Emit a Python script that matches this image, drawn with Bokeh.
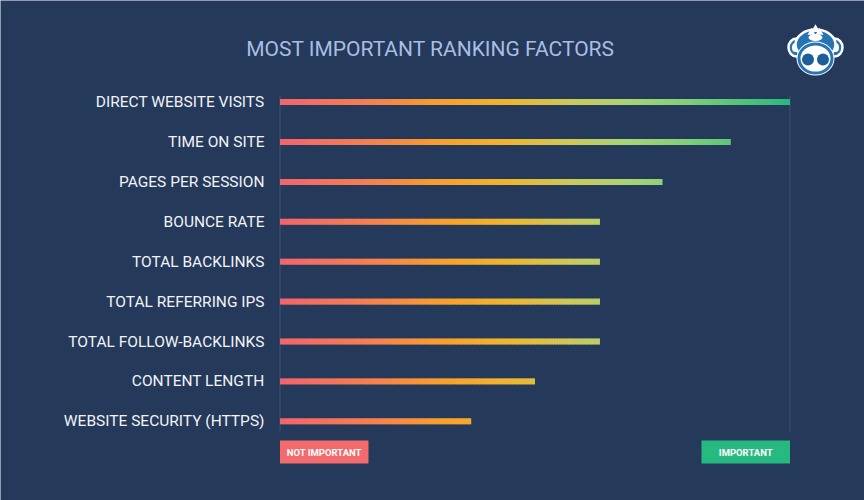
import numpy as np
from bokeh.plotting import figure
from bokeh.models import Range1d
from bokeh.core.properties import value
from bokeh.embed import file_html
from bokeh.resources import INLINE

# ---------------- data ----------------
title_text = "MOST IMPORTANT RANKING FACTORS"
factors = [
    "DIRECT WEBSITE VISITS",
    "TIME ON SITE",
    "PAGES PER SESSION",
    "BOUNCE RATE",
    "TOTAL BACKLINKS",
    "TOTAL REFERRING IPS",
    "TOTAL FOLLOW-BACKLINKS",
    "CONTENT LENGTH",
    "WEBSITE SECURITY (HTTPS)",
]
importance = [100, 88.4, 75, 62.7, 62.7, 62.7, 62.7, 50, 37.5]
scale_labels = ["NOT IMPORTANT", "IMPORTANT"]

# ---------------- layout ----------------
W, H = 864, 500
X0, X1 = 279.5, 789.5      # pixel of value 0 and value 100
Y0, DY = 101.6, 39.9       # pixel of first row, row spacing
sx = (X1 - X0) / 100.0

def fx(px):
    return (px - X0) / sx

def fy(py):
    return (py - Y0) / DY

BG = "#25395a"
FONT = "Roboto"

p = figure(width=W, height=H, output_backend="svg", toolbar_location=None,
           x_range=Range1d(fx(0), fx(W)), y_range=Range1d(fy(H), fy(0)),
           x_axis_location=None, y_axis_location=None, min_border=0)
p.background_fill_color = BG
p.border_fill_color = BG
p.outline_line_color = None
p.xgrid.grid_line_color = None
p.ygrid.grid_line_color = None

# gradient colour as function of position on the 0..100 scale
stops = [
    (0.00, (241, 101, 110)),
    (0.18, (246, 128, 78)),
    (0.33, (248, 162, 42)),
    (0.45, (238, 182, 48)),
    (0.57, (205, 200, 90)),
    (0.68, (168, 212, 118)),
    (0.80, (128, 206, 120)),
    (0.90, (85, 195, 122)),
    (1.00, (40, 184, 126)),
]

def grad(t):
    t = min(max(t, 0.0), 1.0)
    for (a, ca), (b, cb) in zip(stops[:-1], stops[1:]):
        if a <= t <= b:
            f = (t - a) / (b - a)
            c = [int(round(ca[k] + f * (cb[k] - ca[k]))) for k in range(3)]
            return "#%02x%02x%02x" % tuple(c)
    return "#%02x%02x%02x" % stops[-1][1]

n = len(factors)

# axis frame lines at 0 and 100
p.segment(x0=[0, 100], y0=[fy(95)] * 2, x1=[0, 100], y1=[fy(431)] * 2,
          line_color="#3b5479", line_width=1)

# gradient bars
step = 0.5
sx0, sx1, sy, sc = [], [], [], []
for i, v in enumerate(importance):
    xs = np.arange(0, v, step)
    for x in xs:
        sx0.append(x)
        sx1.append(min(x + step + 0.2, v))
        sy.append(i)
        sc.append(grad((x + step / 2) / 100.0))
p.segment(x0=sx0, y0=sy, x1=sx1, y1=sy, line_color=sc, line_width=6,
          line_cap="butt")

# category labels
p.text(x=[fx(264)] * n, y=list(range(n)), text=factors, text_align="right",
       text_baseline="middle", text_font=value(FONT), text_font_size="15.5px",
       text_color="#f1f3f6")

# title
p.text(x=[fx(430)], y=[fy(48)], text=[title_text], text_align="center",
       text_baseline="middle", text_font=value(FONT), text_font_size="21px",
       text_color="#a8bee2")

# scale boxes
bl = [0, 100 - fx(368)]
br = [fx(368), 100]
p.quad(left=bl, right=br, top=[fy(440)] * 2, bottom=[fy(463)] * 2,
       fill_color=["#f26a6b", "#27ba80"], line_color=None)
p.text(x=[(bl[0] + br[0]) / 2, (bl[1] + br[1]) / 2], y=[fy(452)] * 2,
       text=scale_labels, text_align="center", text_baseline="middle",
       text_font=value(FONT), text_font_style="bold", text_font_size="9.5px",
       text_color="#ffffff")

# logo (approximation)
cx, cy = 815, 50
BLUE = "#2773b3"
DBLUE = "#1d5d98"
# ears
p.ellipse(x=[fx(cx - 19), fx(cx + 19)], y=[fy(cy - 3)] * 2, width=16, height=18,
          width_units="screen", height_units="screen",
          fill_color=BLUE, line_color="white", line_width=2.5)
p.ellipse(x=[fx(cx - 20), fx(cx + 20)], y=[fy(cy - 3)] * 2, width=7, height=9,
          width_units="screen", height_units="screen",
          fill_color="white", line_color=None)
# head
p.ellipse(x=[fx(cx)], y=[fy(cy - 6)], width=40, height=30,
          width_units="screen", height_units="screen",
          fill_color=BLUE, line_color="white", line_width=2.5)
# tuft
p.scatter(x=[fx(cx - 4), fx(cx), fx(cx + 4)], y=[fy(cy - 18), fy(cy - 21), fy(cy - 18)],
          marker="triangle", size=[8, 9, 8], fill_color="white", line_color=None)
p.ellipse(x=[fx(cx)], y=[fy(cy - 13)], width=14, height=7,
          width_units="screen", height_units="screen",
          fill_color="white", line_color=None)
# face
p.ellipse(x=[fx(cx)], y=[fy(cy + 8)], width=38, height=34,
          width_units="screen", height_units="screen",
          fill_color="white", line_color=None)
p.ellipse(x=[fx(cx)], y=[fy(cy + 8)], width=33, height=29,
          width_units="screen", height_units="screen",
          fill_color="white", line_color=BLUE, line_width=3)
# nostrils
p.scatter(x=[fx(cx - 7.5), fx(cx + 7.5)], y=[fy(cy + 9)] * 2, marker="circle",
          size=12, fill_color=DBLUE, line_color=None)

open("out.html", "w").write(file_html(p, INLINE))
